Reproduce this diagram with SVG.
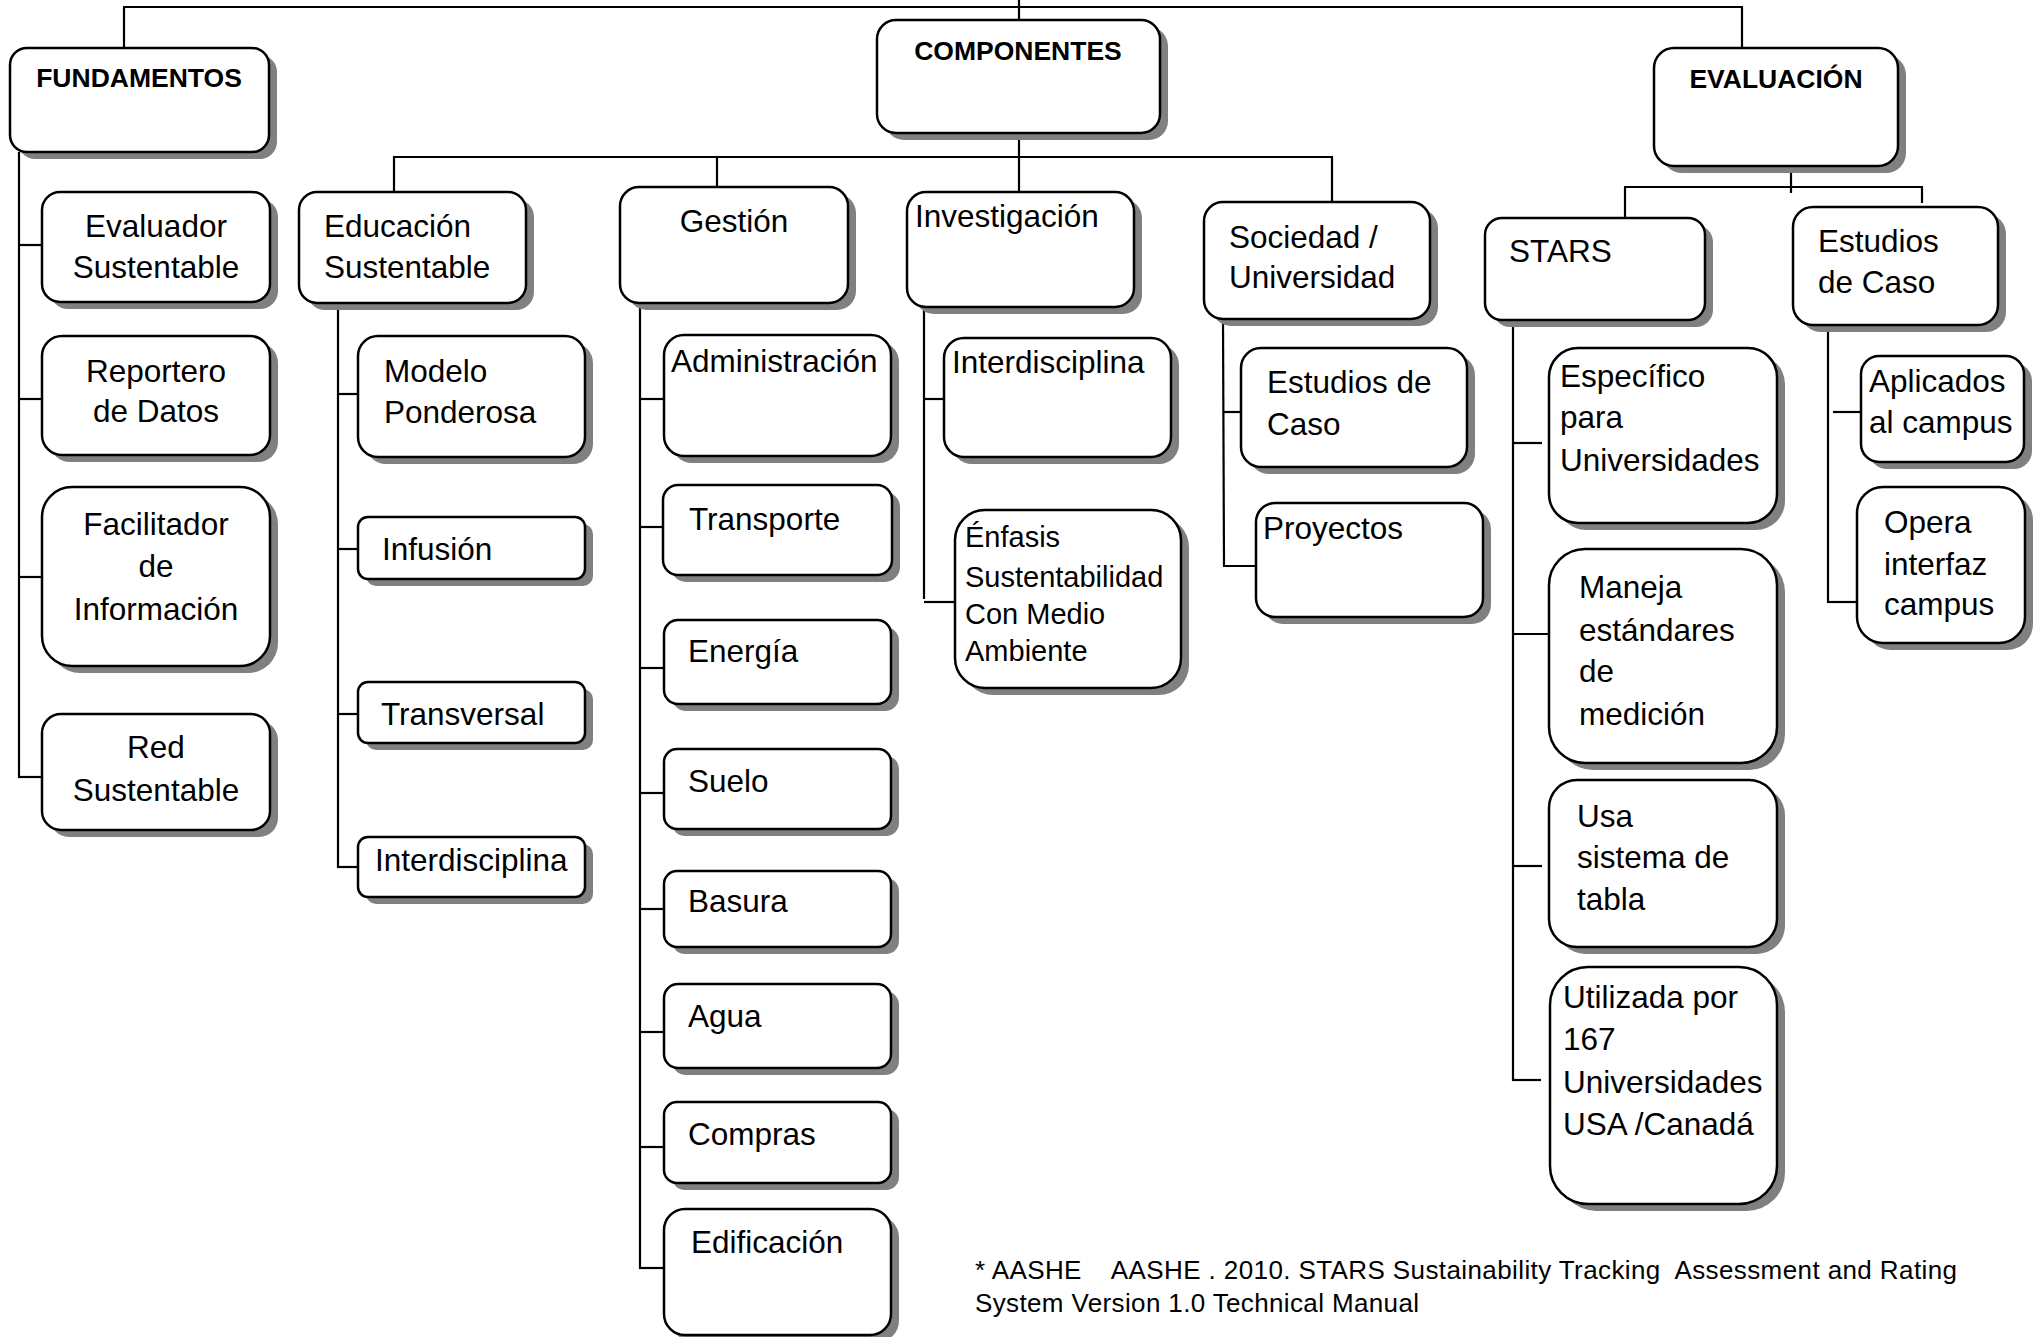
<svg xmlns="http://www.w3.org/2000/svg" width="2036" height="1337" viewBox="0 0 2036 1337">
<style>
.bg{fill:#ffffff}
.sh{fill:#808080;stroke:none}
.bx{fill:#ffffff;stroke:#000000;stroke-width:2.5}
.cn line{stroke:#000000;stroke-width:2.2}
text{font-family:"Liberation Sans",Arial,sans-serif;fill:#000000}
.t{font-size:31.5px}
.ts{font-size:29px}
.tb{font-size:26.5px;font-weight:bold;text-anchor:middle}
.c{text-anchor:middle}
.fn{font-size:26px}
</style>
<rect class="bg" x="0" y="0" width="2036" height="1337"/>
<g id="connectors" class="cn">
<line x1="1019" y1="0" x2="1019" y2="20"/>
<line x1="123" y1="7" x2="1743" y2="7"/>
<line x1="124" y1="7" x2="124" y2="48"/>
<line x1="1742" y1="7" x2="1742" y2="48"/>
<line x1="1019" y1="133" x2="1019" y2="192"/>
<line x1="393" y1="157" x2="1333" y2="157"/>
<line x1="394" y1="157" x2="394" y2="192"/>
<line x1="717" y1="157" x2="717" y2="187"/>
<line x1="1332" y1="157" x2="1332" y2="202"/>
<line x1="19" y1="152" x2="19" y2="778"/>
<line x1="19" y1="245" x2="42" y2="245"/>
<line x1="19" y1="399" x2="42" y2="399"/>
<line x1="19" y1="577" x2="42" y2="577"/>
<line x1="18" y1="777" x2="42" y2="777"/>
<line x1="338" y1="303" x2="338" y2="868"/>
<line x1="338" y1="394" x2="358" y2="394"/>
<line x1="338" y1="549" x2="358" y2="549"/>
<line x1="338" y1="714" x2="358" y2="714"/>
<line x1="337" y1="867" x2="358" y2="867"/>
<line x1="640" y1="303" x2="640" y2="1269"/>
<line x1="640" y1="399" x2="664" y2="399"/>
<line x1="639" y1="527" x2="663" y2="527"/>
<line x1="639" y1="668" x2="664" y2="668"/>
<line x1="639" y1="793" x2="664" y2="793"/>
<line x1="639" y1="909" x2="664" y2="909"/>
<line x1="639" y1="1032" x2="664" y2="1032"/>
<line x1="639" y1="1147" x2="664" y2="1147"/>
<line x1="639" y1="1268" x2="664" y2="1268"/>
<line x1="924" y1="307" x2="924" y2="599"/>
<line x1="924" y1="399" x2="944" y2="399"/>
<line x1="924" y1="602" x2="955" y2="602"/>
<line x1="1223" y1="319" x2="1224" y2="566"/>
<line x1="1223" y1="412" x2="1241" y2="412"/>
<line x1="1223" y1="566" x2="1256" y2="566"/>
<line x1="1791" y1="166" x2="1791" y2="193"/>
<line x1="1624" y1="187" x2="1923" y2="187"/>
<line x1="1625" y1="187" x2="1625" y2="218"/>
<line x1="1922" y1="187" x2="1922" y2="203"/>
<line x1="1513" y1="320" x2="1513" y2="1081"/>
<line x1="1513" y1="443" x2="1542" y2="443"/>
<line x1="1513" y1="634" x2="1549" y2="634"/>
<line x1="1513" y1="866" x2="1542" y2="866"/>
<line x1="1513" y1="1080" x2="1541" y2="1080"/>
<line x1="1828" y1="325" x2="1828" y2="603"/>
<line x1="1833" y1="412" x2="1861" y2="412"/>
<line x1="1828" y1="602" x2="1857" y2="602"/>
</g>

<g id="fundamentos">
<rect class="sh" x="18" y="55" width="259" height="104" rx="17"/>
<rect class="bx" x="10" y="48" width="259" height="104" rx="17"/>
<text class="tb" x="139" y="87">FUNDAMENTOS</text>
</g>
<g id="componentes">
<rect class="sh" x="885" y="27" width="283" height="113" rx="19"/>
<rect class="bx" x="877" y="20" width="283" height="113" rx="19"/>
<text class="tb" x="1018" y="60">COMPONENTES</text>
</g>
<g id="evaluacion">
<rect class="sh" x="1662" y="55" width="244" height="118" rx="20"/>
<rect class="bx" x="1654" y="48" width="244" height="118" rx="20"/>
<text class="tb" x="1776" y="88">EVALUACIÓN</text>
</g>

<g id="evaluador-sustentable">
<rect class="sh" x="50" y="199" width="228" height="110" rx="18"/>
<rect class="bx" x="42" y="192" width="228" height="110" rx="18"/>
<text class="t c" x="156" y="237">Evaluador</text>
<text class="t c" x="156" y="278">Sustentable</text>
</g>
<g id="reportero-de-datos">
<rect class="sh" x="50" y="343" width="228" height="119" rx="20"/>
<rect class="bx" x="42" y="336" width="228" height="119" rx="20"/>
<text class="t c" x="156" y="382">Reportero</text>
<text class="t c" x="156" y="422">de Datos</text>
</g>
<g id="facilitador-de-informacion">
<rect class="sh" x="50" y="494" width="228" height="179" rx="30"/>
<rect class="bx" x="42" y="487" width="228" height="179" rx="30"/>
<text class="t c" x="156" y="535">Facilitador</text>
<text class="t c" x="156" y="577">de</text>
<text class="t c" x="156" y="620">Información</text>
</g>
<g id="red-sustentable">
<rect class="sh" x="50" y="721" width="228" height="116" rx="19"/>
<rect class="bx" x="42" y="714" width="228" height="116" rx="19"/>
<text class="t c" x="156" y="758">Red</text>
<text class="t c" x="156" y="801">Sustentable</text>
</g>

<g id="educacion-sustentable">
<rect class="sh" x="307" y="199" width="227" height="111" rx="18"/>
<rect class="bx" x="299" y="192" width="227" height="111" rx="18"/>
<text class="t" x="324" y="237">Educación</text>
<text class="t" x="324" y="278">Sustentable</text>
</g>
<g id="modelo-ponderosa">
<rect class="sh" x="366" y="343" width="227" height="121" rx="20"/>
<rect class="bx" x="358" y="336" width="227" height="121" rx="20"/>
<text class="t" x="384" y="382">Modelo</text>
<text class="t" x="384" y="423">Ponderosa</text>
</g>
<g id="infusion">
<rect class="sh" x="366" y="524" width="227" height="62" rx="10"/>
<rect class="bx" x="358" y="517" width="227" height="62" rx="10"/>
<text class="t" x="382" y="560">Infusión</text>
</g>
<g id="transversal">
<rect class="sh" x="366" y="689" width="227" height="61" rx="10"/>
<rect class="bx" x="358" y="682" width="227" height="61" rx="10"/>
<text class="t" x="381" y="725">Transversal</text>
</g>
<g id="interdisciplina-educacion">
<rect class="sh" x="366" y="844" width="227" height="60" rx="10"/>
<rect class="bx" x="358" y="837" width="227" height="60" rx="10"/>
<text class="t" x="375" y="871">Interdisciplina</text>
</g>

<g id="gestion">
<rect class="sh" x="628" y="194" width="228" height="116" rx="19"/>
<rect class="bx" x="620" y="187" width="228" height="116" rx="19"/>
<text class="t c" x="734" y="232">Gestión</text>
</g>
<g id="administracion">
<rect class="sh" x="672" y="342" width="227" height="121" rx="20"/>
<rect class="bx" x="664" y="335" width="227" height="121" rx="20"/>
<text class="t" x="671" y="372">Administración</text>
</g>
<g id="transporte">
<rect class="sh" x="671" y="492" width="229" height="90" rx="15"/>
<rect class="bx" x="663" y="485" width="229" height="90" rx="15"/>
<text class="t" x="689" y="530">Transporte</text>
</g>
<g id="energia">
<rect class="sh" x="672" y="627" width="227" height="84" rx="14"/>
<rect class="bx" x="664" y="620" width="227" height="84" rx="14"/>
<text class="t" x="688" y="662">Energía</text>
</g>
<g id="suelo">
<rect class="sh" x="672" y="756" width="227" height="80" rx="13"/>
<rect class="bx" x="664" y="749" width="227" height="80" rx="13"/>
<text class="t" x="688" y="792">Suelo</text>
</g>
<g id="basura">
<rect class="sh" x="672" y="878" width="227" height="76" rx="13"/>
<rect class="bx" x="664" y="871" width="227" height="76" rx="13"/>
<text class="t" x="688" y="912">Basura</text>
</g>
<g id="agua">
<rect class="sh" x="672" y="991" width="227" height="84" rx="14"/>
<rect class="bx" x="664" y="984" width="227" height="84" rx="14"/>
<text class="t" x="688" y="1027">Agua</text>
</g>
<g id="compras">
<rect class="sh" x="672" y="1109" width="227" height="81" rx="13"/>
<rect class="bx" x="664" y="1102" width="227" height="81" rx="13"/>
<text class="t" x="688" y="1145">Compras</text>
</g>
<g id="edificacion">
<rect class="sh" x="672" y="1216" width="227" height="126" rx="21"/>
<rect class="bx" x="664" y="1209" width="227" height="126" rx="21"/>
<text class="t" x="691" y="1253">Edificación</text>
</g>

<g id="investigacion">
<rect class="sh" x="915" y="199" width="227" height="115" rx="19"/>
<rect class="bx" x="907" y="192" width="227" height="115" rx="19"/>
<text class="t" x="915" y="227">Investigación</text>
</g>
<g id="interdisciplina-investigacion">
<rect class="sh" x="952" y="345" width="227" height="119" rx="20"/>
<rect class="bx" x="944" y="338" width="227" height="119" rx="20"/>
<text class="t" x="952" y="373">Interdisciplina</text>
</g>
<g id="enfasis-sustentabilidad">
<rect class="sh" x="963" y="517" width="226" height="178" rx="30"/>
<rect class="bx" x="955" y="510" width="226" height="178" rx="30"/>
<text class="ts" x="965" y="547">Énfasis</text>
<text class="ts" x="965" y="587">Sustentabilidad</text>
<text class="ts" x="965" y="624">Con Medio</text>
<text class="ts" x="965" y="661">Ambiente</text>
</g>

<g id="sociedad-universidad">
<rect class="sh" x="1212" y="209" width="226" height="117" rx="19"/>
<rect class="bx" x="1204" y="202" width="226" height="117" rx="19"/>
<text class="t" x="1229" y="248">Sociedad /</text>
<text class="t" x="1229" y="288">Universidad</text>
</g>
<g id="estudios-de-caso-sociedad">
<rect class="sh" x="1249" y="355" width="226" height="119" rx="20"/>
<rect class="bx" x="1241" y="348" width="226" height="119" rx="20"/>
<text class="t" x="1267" y="393">Estudios de</text>
<text class="t" x="1267" y="435">Caso</text>
</g>
<g id="proyectos">
<rect class="sh" x="1264" y="510" width="227" height="114" rx="19"/>
<rect class="bx" x="1256" y="503" width="227" height="114" rx="19"/>
<text class="t" x="1263" y="539">Proyectos</text>
</g>

<g id="stars">
<rect class="sh" x="1493" y="225" width="220" height="102" rx="17"/>
<rect class="bx" x="1485" y="218" width="220" height="102" rx="17"/>
<text class="t" x="1509" y="262">STARS</text>
</g>
<g id="especifico-para-universidades">
<rect class="sh" x="1557" y="355" width="228" height="175" rx="29"/>
<rect class="bx" x="1549" y="348" width="228" height="175" rx="29"/>
<text class="t" x="1560" y="387">Específico</text>
<text class="t" x="1560" y="428">para</text>
<text class="t" x="1560" y="471">Universidades</text>
</g>
<g id="maneja-estandares">
<rect class="sh" x="1557" y="556" width="228" height="214" rx="36"/>
<rect class="bx" x="1549" y="549" width="228" height="214" rx="36"/>
<text class="t" x="1579" y="598">Maneja</text>
<text class="t" x="1579" y="641">estándares</text>
<text class="t" x="1579" y="682">de</text>
<text class="t" x="1579" y="725">medición</text>
</g>
<g id="usa-sistema-de-tabla">
<rect class="sh" x="1557" y="787" width="228" height="167" rx="28"/>
<rect class="bx" x="1549" y="780" width="228" height="167" rx="28"/>
<text class="t" x="1577" y="827">Usa</text>
<text class="t" x="1577" y="868">sistema de</text>
<text class="t" x="1577" y="910">tabla</text>
</g>
<g id="utilizada-por-167">
<rect class="sh" x="1558" y="974" width="227" height="237" rx="38"/>
<rect class="bx" x="1550" y="967" width="227" height="237" rx="38"/>
<text class="t" x="1563" y="1008">Utilizada por</text>
<text class="t" x="1563" y="1050">167</text>
<text class="t" x="1563" y="1093">Universidades</text>
<text class="t" x="1563" y="1135">USA /Canadá</text>
</g>

<g id="estudios-de-caso-evaluacion">
<rect class="sh" x="1801" y="214" width="205" height="118" rx="20"/>
<rect class="bx" x="1793" y="207" width="205" height="118" rx="20"/>
<text class="t" x="1818" y="252">Estudios</text>
<text class="t" x="1818" y="293">de Caso</text>
</g>
<g id="aplicados-al-campus">
<rect class="sh" x="1869" y="363" width="163" height="106" rx="18"/>
<rect class="bx" x="1861" y="356" width="163" height="106" rx="18"/>
<text class="t" x="1869" y="392">Aplicados</text>
<text class="t" x="1869" y="433">al campus</text>
</g>
<g id="opera-interfaz-campus">
<rect class="sh" x="1865" y="494" width="168" height="156" rx="26"/>
<rect class="bx" x="1857" y="487" width="168" height="156" rx="26"/>
<text class="t" x="1884" y="533">Opera</text>
<text class="t" x="1884" y="575">interfaz</text>
<text class="t" x="1884" y="615">campus</text>
</g>

<g id="footnote">
<text class="fn" x="975" y="1279" xml:space="preserve" textLength="982" lengthAdjust="spacing">* AASHE    AASHE . 2010. STARS Sustainability Tracking  Assessment and Rating</text>
<text class="fn" x="975" y="1312" textLength="444" lengthAdjust="spacing">System Version 1.0 Technical Manual</text>
</g>
</svg>
